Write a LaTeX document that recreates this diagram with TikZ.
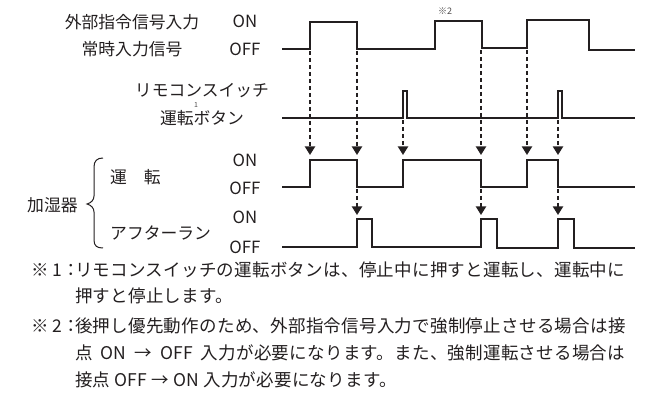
\documentclass[tikz,border=0pt]{standalone}
\usepackage{fontspec}
\setmainfont{Noto Sans CJK JP}
\newfontfamily\notefont[LetterSpace=1.5]{Noto Sans CJK JP}
\usetikzlibrary{arrows.meta}
\definecolor{ink}{HTML}{231F20}
\begin{document}
\begin{tikzpicture}[x=1pt,y=-1pt,
  sig/.style={draw=ink, line width=2pt, line join=miter, line cap=butt},
  lab/.style={inner sep=0pt, text=ink, font=\fontsize{16.8}{18}\selectfont},
  tinylab/.style={inner sep=0pt, text=ink!80, font=\fontsize{9}{10}\selectfont},
  note/.style={inner sep=0pt, anchor=west, text=ink, font=\notefont\fontsize{17.5}{20}\selectfont},
  dar/.style={draw=ink, line width=1.8pt, dash pattern=on 4pt off 3pt,
    -{Triangle[width=10pt,length=8.5pt]}},
  bracepath/.style={draw=ink, line width=1pt}
]
\useasboundingbox (0,0) rectangle (654,419);

% signals
\draw[sig] (282,49) -- (310,49) -- (310,22) -- (357,22) -- (357,49) -- (435,49) -- (435,21)
  -- (482,21) -- (482,48) -- (527,48) -- (527,20) -- (589,20) -- (589,50) -- (635,50);
\draw[sig] (282,118) -- (403,118) -- (403,91) -- (407,91) -- (407,118) -- (558,118)
  -- (558,91) -- (562,91) -- (562,118) -- (635,118);
\draw[sig] (282,187) -- (310,187) -- (310,160) -- (357,160) -- (357,187) -- (403,187)
  -- (403,160) -- (481,160) -- (481,187) -- (527,187) -- (527,160) -- (558,160)
  -- (558,187) -- (635,187);
\draw[sig] (282,247) -- (357,247) -- (357,219) -- (372,219) -- (372,247) -- (481,247)
  -- (481,219) -- (497,219) -- (497,248) -- (558,248) -- (558,219) -- (574,219)
  -- (574,248) -- (635,248);

% edge coordinates
\coordinate (e1) at (310,51);
\coordinate (e2) at (357,51);
\coordinate (e3) at (481,50);
\coordinate (e4) at (527,50);
\coordinate (p1) at (403,120);
\coordinate (p2) at (558,120);
\coordinate (t1) at (310,155);
\coordinate (t2) at (357,155);
\coordinate (t3) at (403,155);
\coordinate (t4) at (481,155);
\coordinate (t5) at (527,155);
\coordinate (t6) at (558,155);
\coordinate (f1) at (357,189);
\coordinate (f2) at (481,189);
\coordinate (f3) at (558,189);
\coordinate (a1) at (357,215);
\coordinate (a2) at (481,215);
\coordinate (a3) at (558,215);

\draw[dar] (e1) -- (t1);
\draw[dar] (e2) -- (t2);
\draw[dar] (p1) -- (t3);
\draw[dar] (e3) -- (t4);
\draw[dar] (e4) -- (t5);
\draw[dar] (p2) -- (t6);
\draw[dar] (f1) -- (a1);
\draw[dar] (f2) -- (a2);
\draw[dar] (f3) -- (a3);

% labels
\node[lab] (ext1) at (132,22) {外部指令信号入力};
\node[lab] (ext2) at (132,49) {常時入力信号};
\node[lab] (on1) at (245,21) {ON};
\node[lab] (off1) at (245,49) {OFF};
\node[lab] (rc1) at (202,91) {リモコンスイッチ};
\node[lab] (rc2) at (202,118) {運転ボタン};
\node[tinylab, font=\fontsize{7}{8}\selectfont] (n1) at (196,105) {1};
\node[tinylab] (m2) at (445,11) {※2};
\node[lab] (on2) at (245,160) {ON};
\node[lab] (off2) at (245,188) {OFF};
\node[lab] (on3) at (245,217) {ON};
\node[lab] (off3) at (245,247) {OFF};
\node[lab, anchor=west] (run) at (110,177) {運　転};
\node[lab, anchor=west] (after) at (110,233) {アフターラン};
\node[lab, anchor=west] (hum) at (27,205) {加湿器};

% brace
\draw[bracepath] (103,158) .. controls (97,158) and (94,161) .. (94,167) -- (94,196)
  .. controls (94,200) and (91,203) .. (87,204)
  .. controls (91,205) and (94,208) .. (94,212) -- (94,240)
  .. controls (94,246) and (97,248) .. (103,248);

% notes
\node[note] (k1) at (31,270) {※ 1：};
\node[note] (b1) at (75,270) {リモコンスイッチの運転ボタンは、停止中に押すと運転し、運転中に};
\node[note] (b2) at (75,296) {押すと停止します。};
\node[note] (k2) at (31,326) {※ 2：};
\node[note] (b3) at (75,326) {後押し優先動作のため、外部指令信号入力で強制停止させる場合は接};
\node[note] (b4) at (75,353) {\makebox[550pt][s]{点 ON → OFF 入力が必要になります。また、強制運転させる場合は}};
\node[note] (b5) at (75,380) {接点 OFF → ON 入力が必要になります。};
\end{tikzpicture}
\end{document}
